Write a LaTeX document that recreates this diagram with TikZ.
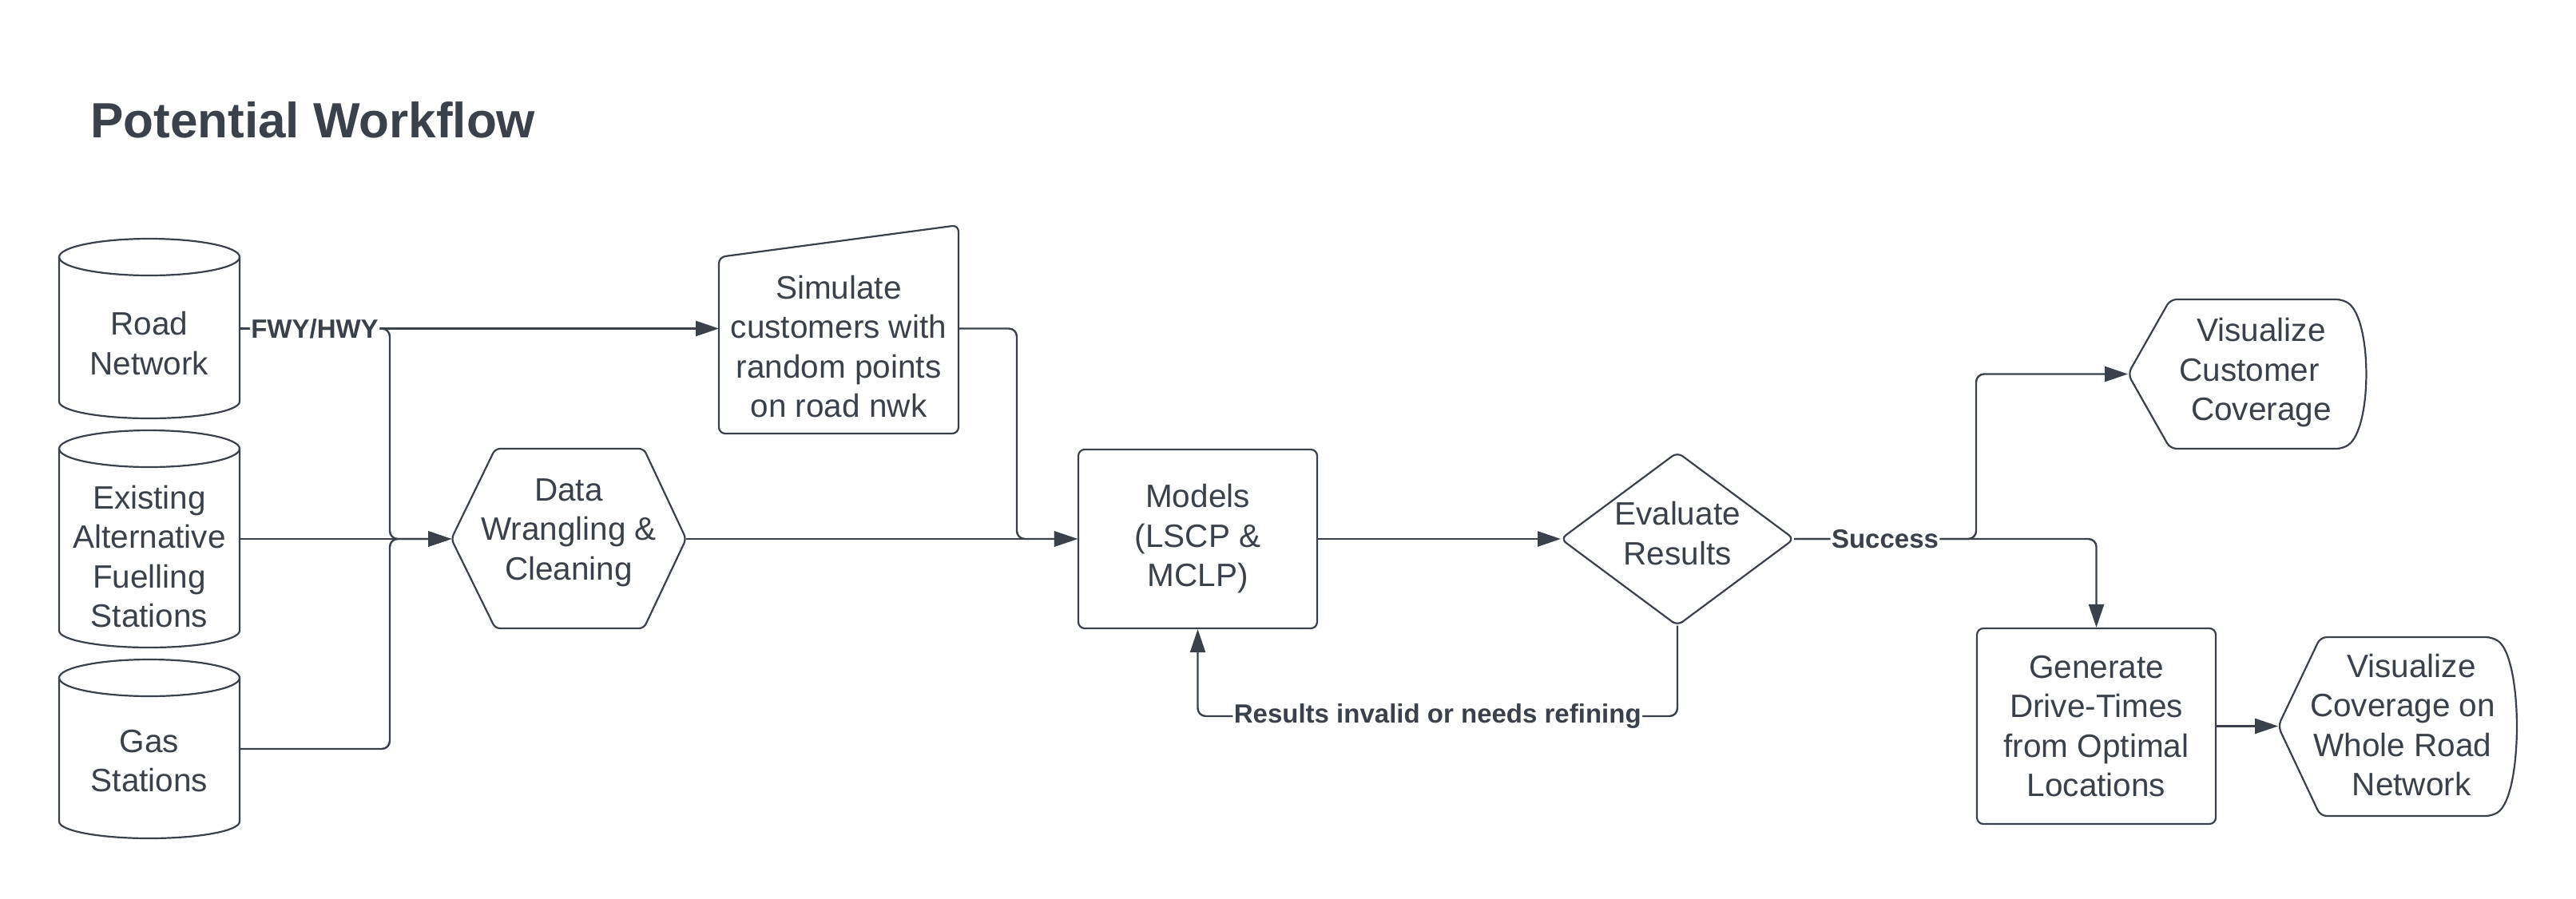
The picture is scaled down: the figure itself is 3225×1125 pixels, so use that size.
\documentclass[tikz,border=0pt]{standalone}
\usepackage{fontspec}
\setmainfont{Liberation Sans}
\usetikzlibrary{arrows.meta,calc}
\definecolor{ink}{HTML}{3A414A}
\newcommand\drawcyl[1]{%
  \draw[shp] ([yshift=-23pt]#1.north west) -- ([yshift=21pt]#1.south west)
    arc[start angle=180, end angle=360, x radius=113pt, y radius=21pt]
    -- ([yshift=-23pt]#1.north east);
  \draw[shp] ([yshift=-23pt]#1.north) ellipse[x radius=113pt, y radius=23pt];
}
\begin{document}
\begin{tikzpicture}[x=1pt,y=-1pt,
  shp/.style={draw=ink, line width=2.2pt, line join=round},
  con/.style={draw=ink, line width=2.4pt, rounded corners=10pt},
  arr/.style={con, -{Triangle[length=29pt,width=19pt]}},
  txt/.style={text=ink, align=center, font=\fontsize{40.5}{49.5}\selectfont, inner sep=0pt},
  lbl/.style={text=ink, fill=white, font=\fontsize{33}{38}\selectfont\bfseries, inner sep=1.5pt},
  box/.style={draw=none, inner sep=0pt, outer sep=0pt},
]
\fill[white] (0,0) rectangle (3225,1125);
\useasboundingbox (0,0) rectangle (3225,1125);

\node[anchor=base west, text=ink, font=\fontsize{62}{70}\selectfont\bfseries, inner sep=0pt] (title) at (113,172) {Potential Workflow};

% cylinders
\node[box, minimum width=226pt, minimum height=225pt] (road) at (187,411.5) {};
\node[box, minimum width=226pt, minimum height=272pt] (ex) at (187,675) {};
\node[box, minimum width=226pt, minimum height=224pt] (gas) at (187,938) {};
\drawcyl{road}
\drawcyl{ex}
\drawcyl{gas}
\node[txt] at (187,430) {Road\\Network};
\node[txt] at (187,697) {Existing\\Alternative\\Fuelling\\Stations};
\node[txt] at (187,953) {Gas\\Stations};

% data wrangling hexagon
\node[box, minimum width=294pt, minimum height=225pt] (dw) at (712,675) {};
\draw[shp, rounded corners=6pt] (565,675) -- (620,562) -- (806,562) -- (859,675) -- (806,787) -- (620,787) -- cycle;
\node[txt] at (712,667) {Data\\Wrangling \&\\Cleaning};

% simulate (manual input)
\node[box, minimum width=300pt, minimum height=261pt] (sim) at (1050,411.5) {};
\draw[shp, rounded corners=8pt] (900,322) -- (1200,282) -- (1200,543) -- (900,543) -- cycle;
\node[txt] at (1050,434) {Simulate\\customers with\\random points\\on road nwk};

% models
\node[txt, shp, rounded corners=8pt, minimum width=299pt, minimum height=224pt] (models) at (1499.5,675) {Models\\(LSCP \&\\MCLP)};

% evaluate diamond
\node[box, minimum width=292pt, minimum height=217pt] (ev) at (2100,675) {};
\draw[shp, rounded corners=8pt] (ev.west) -- (ev.north) -- (ev.east) -- (ev.south) -- cycle;
\node[txt] at (2100,668) {Evaluate\\Results};

% visualize customer coverage (display)
\node[box, minimum width=298pt, minimum height=187pt] (vc) at (2813,468.5) {};
\draw[shp, rounded corners=8pt] (2664,468.5) -- (2717,375) -- (2933,375) .. controls (2970,400) and (2970,537) .. (2933,562) -- (2717,562) -- cycle;
\node[txt] at (2816,467) {\hspace*{30pt}Visualize\\Customer\\\hspace*{30pt}Coverage};

% generate
\node[txt, shp, rounded corners=8pt, minimum width=299pt, minimum height=245pt] (gen) at (2624.5,909.5) {Generate\\Drive-Times\\from Optimal\\Locations};

% visualize whole network (display)
\node[box, minimum width=298pt, minimum height=224pt] (vw) at (3001,909.5) {};
\draw[shp, rounded corners=8pt] (2852,909.5) -- (2905,798) -- (3120,798) .. controls (3159,823) and (3159,997) .. (3120,1022) -- (2905,1022) -- cycle;
\node[txt] at (3008,908) {\hspace*{22pt}Visualize\\Coverage on\\Whole Road\\\hspace*{22pt}Network};

% routing coordinates
\coordinate (busA) at (488,0);
\coordinate (busB) at (1273,0);
\coordinate (busC) at (2474,0);
\coordinate (loop) at (0,897);

% connectors
\draw[arr] (road.east) -- (sim.west);
\draw[arr] (road.east) -- node[lbl]{FWY/HWY} (road.east -| busA) |- (dw.west);
\draw[arr] (ex.east) -- (dw.west);
\draw[arr] (gas.east) -- (gas.east -| busA) |- (dw.west);
\draw[arr] (dw.east) -- (models.west);
\draw[arr] (sim.east) -- (sim.east -| busB) |- (models.west);
\draw[arr] (models.east) -- (ev.west);
\draw[arr] (ev.south) -- (ev.south |- loop) -- node[lbl]{Results invalid or needs refining} (models.south |- loop) -- (models.south);
\draw[arr] (ev.east) -| (gen.north);
\draw[arr] (ev.east) -- node[lbl]{Success} (ev.east -| busC) |- (vc.west);
\draw[arr] (gen.east) -- (vw.west);
\end{tikzpicture}
\end{document}
